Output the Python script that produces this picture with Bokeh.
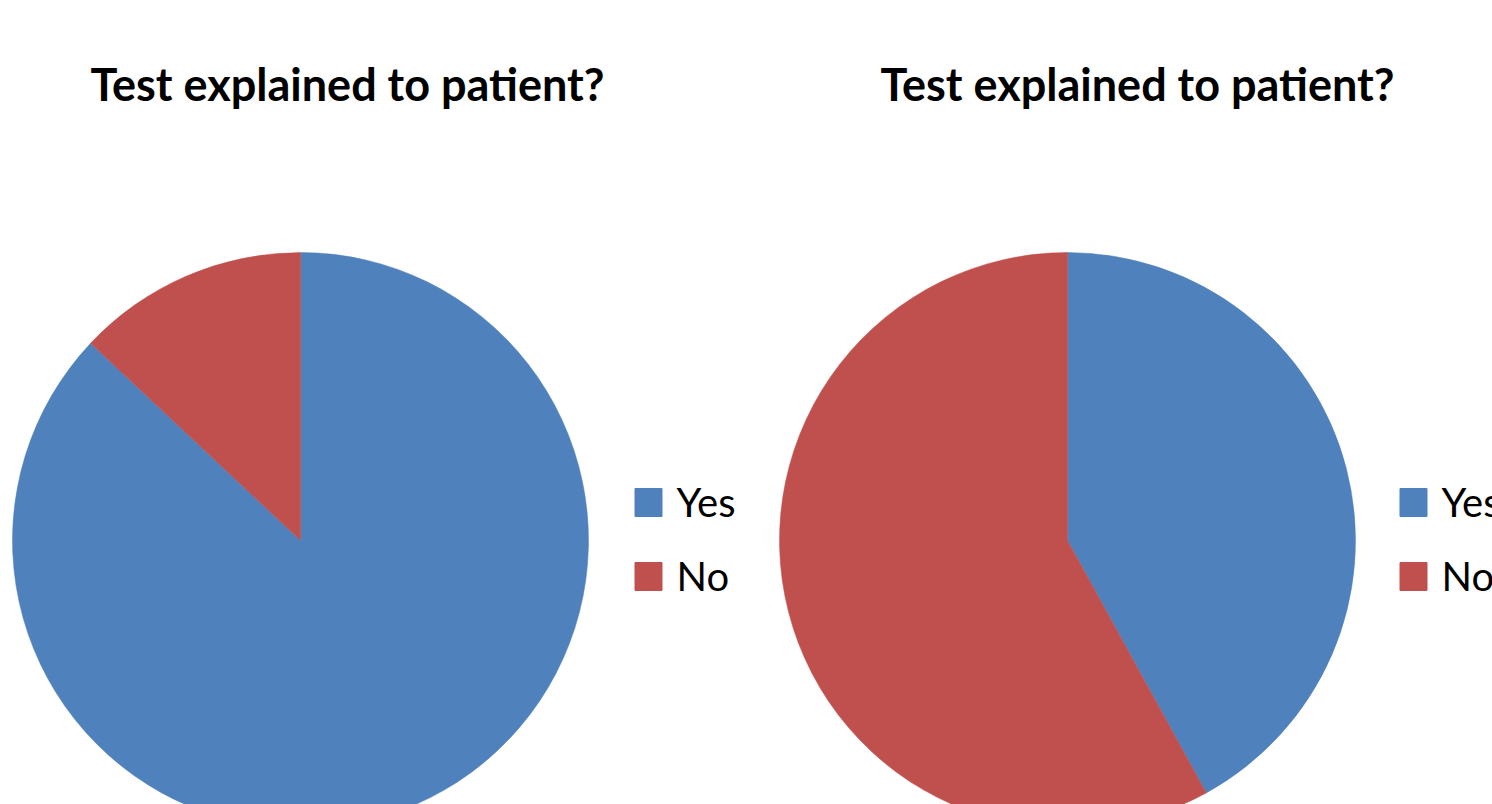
import math
from bokeh.plotting import figure
from bokeh.models import Range1d, ColumnDataSource
from bokeh.core.properties import value
from bokeh.embed import file_html
from bokeh.resources import INLINE

# Data
categories = ["Yes", "No"]
chart1_values = [87, 13]
chart2_values = [42, 58]
colors = ["#4F81BD", "#C0504D"]
title_text = "Test explained to patient?"

W, H = 1492, 804
p = figure(width=W, height=H, x_range=Range1d(0, W), y_range=Range1d(0, H),
           x_axis_type=None, y_axis_type=None, toolbar_location=None,
           output_backend="svg", min_border=0)
p.outline_line_color = None
p.grid.visible = False
p.background_fill_color = "white"
p.border_fill_color = "white"

def wedges(vals, cx, cy, r):
    total = float(sum(vals))
    starts, ends = [], []
    cum = 0.0
    for v in vals:
        starts.append(math.pi / 2 - 2 * math.pi * cum / total)
        cum += v
        ends.append(math.pi / 2 - 2 * math.pi * cum / total)
    src = ColumnDataSource(dict(x=[cx] * len(vals), y=[cy] * len(vals),
                                start=starts, end=ends, color=colors, cat=categories))
    p.wedge(x="x", y="y", radius=r, start_angle="start", end_angle="end",
            direction="clock", fill_color="color", line_color="color", line_width=0.5,
            source=src)

def legend(x0, ytop):
    gap = 74
    for i, (c, lab) in enumerate(zip(colors, categories)):
        y = ytop - i * gap
        p.rect(x=[x0], y=[y], width=27, height=28, width_units="screen",
               height_units="screen", fill_color=c, line_color=c)
        p.text(x=[x0 + 28], y=[y + 1], text=[lab], text_font=value("Lato"),
               text_font_size="40px", text_baseline="alphabetic", text_align="left",
               text_color="#000000")

def title(cx):
    p.text(x=[cx], y=[721], text=[title_text], text_font=value("Lato"),
           text_font_style="bold", text_font_size="45px", text_align="center",
           text_baseline="alphabetic", text_color="#000000")

R = 288
wedges(chart1_values, 300, 264, R)
wedges(chart2_values, 1067, 264, R)
legend(648, 302)
legend(1413, 302)
title(347)
title(1137)

open("out.html", "w").write(file_html(p, INLINE))
